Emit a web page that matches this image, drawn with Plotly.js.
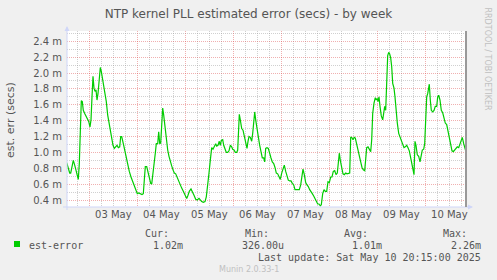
<!DOCTYPE html>
<html>
<head>
<meta charset="utf-8">
<script src="https://cdn.plot.ly/plotly-3.0.1.min.js"></script>
<style>html,body{margin:0;padding:0;background:#F0F0F0;}#chart{width:497px;height:280px;}</style>
</head>
<body>
<div id="chart"></div>
<script>
// hours relative to 03 May 2025 00:00
const hours = [
-11.3,-10.65,-9.8,-9.3,-8.5,-8.0,-7.3,-6.65,-6.0,-5.5,-5.0,-4.5,-4.0,-3.5,-3.0,-2.3,-1.65,-1.0,-0.3,0.35,
0.85,1.35,1.85,2.35,2.85,3.35,3.85,4.35,5.0,5.5,6.0,6.7,7.35,8.0,8.5,9.2,9.85,10.5,11.2,11.85,
12.5,13.2,13.85,14.5,15.2,15.7,16.2,
17.2,18.0,18.7,19.35,20.0,20.85,21.7,22.5,23.35,24.0,24.7,25.5,26.35,27.0,27.5,28.0,28.7,29.35,30.0,30.7,
31.2,31.7,32.35,33.0,33.5,34.2,34.7,35.2,35.7,36.2,36.7,37.2,37.85,38.5,39.2,39.85,40.5,41.2,41.85,42.5,
43.2,43.85,44.5,45.35,
46.2,47.0,47.85,48.7,49.35,50.0,50.85,51.5,52.35,53.2,54.0,54.85,55.5,56.2,57.0,57.85,58.5,59.2,59.85,60.5,
61.2,61.85,62.5,63.2,63.7,64.35,65.0,65.5,66.0,66.7,67.2,67.85,68.5,69.2,69.85,70.5,71.2,71.7,72.35,73.0,
73.7,74.2,74.6,75.0,
75.5,76.2,76.85,77.5,78.2,78.85,79.35,79.85,80.5,81.2,81.7,82.2,82.7,83.2,83.85,84.5,85.2,85.85,86.5,87.2,
87.7,88.2,88.85,89.5,90.2,90.85,91.5,92.2,92.85,93.5,94.2,94.85,95.5,96.2,96.85,97.5,98.2,98.85,99.5,100.2,
100.85,101.5,102.2,102.85,103.5,
105.0,105.7,106.35,106.85,107.5,108.2,108.85,109.5,110.2,110.85,111.5,112.2,112.85,113.5,114.2,114.85,115.5,116.0,116.7,117.35,
118.0,118.7,119.35,120.0,120.7,121.35,122.0,122.7,123.35,124.0,124.5,125.0,125.5,126.2,126.85,127.5,128.2,128.85,129.5,130.2,
130.7,131.2,131.85,132.5,
133.0,133.7,134.35,135.0,135.7,136.35,137.0,137.7,138.2,138.7,139.35,140.0,140.7,141.2,141.7,142.35,143.0,143.5,144.0,144.35,
144.85,145.35,146.0,146.7,147.2,147.7,148.2,148.7,149.2,149.7,150.2,150.7,151.2,151.7,152.35,152.85,153.35,154.0,154.7,155.35,
156.0,156.7,157.35,158.0,158.7,159.35,160.0,160.7,161.35,
161.85,162.35,162.85,163.35,164.0,164.7,165.35,166.0,166.5,167.2,167.7,168.2,168.7,169.2,169.7,170.0,170.5,171.0,171.7,172.35,
173.0,173.7,174.2,174.7,175.35,176.0,176.7,177.35,178.0,178.7,179.35,180.0,180.7,181.35,182.0,182.7,183.35,184.0,184.7,185.35,
186.0,186.5,187.2,187.85,188.2
];
// estimated error, milliseconds
const errMs = [
0.87,0.82,0.74,0.74,0.87,0.90,0.84,0.76,0.69,0.66,0.86,1.20,1.65,1.64,1.53,1.49,1.46,1.42,1.39,1.32,
1.41,1.70,1.96,1.81,1.77,1.79,1.66,1.74,1.95,2.07,2.02,1.91,1.79,1.68,1.64,1.47,1.37,1.26,1.16,1.09,
1.05,1.07,1.09,1.06,1.07,1.20,1.20,
1.09,0.99,0.90,0.86,0.76,0.69,0.63,0.57,0.51,0.48,0.49,0.48,0.47,0.48,0.69,0.82,0.82,0.76,0.67,0.61,
0.60,0.69,0.82,0.99,1.11,1.11,1.26,1.11,1.12,1.37,1.56,1.47,1.32,1.16,1.03,0.95,0.88,0.83,0.78,0.74,
0.73,0.69,0.63,0.58,
0.55,0.51,0.46,0.42,0.46,0.51,0.54,0.51,0.46,0.41,0.40,0.42,0.40,0.38,0.37,0.38,0.44,0.57,0.74,0.90,
1.06,1.04,1.07,1.11,1.08,1.09,1.14,1.09,1.15,1.16,1.09,1.05,1.00,1.00,1.02,1.09,1.07,1.04,1.03,1.00,
1.00,1.03,1.25,1.48,
1.41,1.30,1.28,1.20,1.11,1.05,1.14,1.20,1.19,1.14,1.24,1.41,1.51,1.41,1.28,1.20,1.09,0.99,0.93,0.93,
0.88,1.05,1.06,1.05,0.97,0.93,0.88,0.86,0.81,0.74,0.73,0.69,0.66,0.74,0.81,0.84,0.76,0.69,0.65,0.64,
0.64,0.61,0.59,0.53,0.53,
0.53,0.59,0.74,0.79,0.72,0.62,0.59,0.57,0.53,0.51,0.48,0.45,0.42,0.39,0.35,0.35,0.326,0.34,0.48,0.53,
0.51,0.51,0.63,0.62,0.69,0.69,0.76,0.77,0.72,0.74,0.86,0.99,0.90,0.82,0.73,0.72,0.74,0.73,0.74,0.74,
1.19,1.19,1.16,1.19,
1.18,1.09,1.03,0.97,0.88,0.81,0.78,0.77,0.90,1.06,1.07,1.04,1.01,1.16,1.49,1.62,1.69,1.66,1.68,1.64,
1.70,1.58,1.46,1.41,1.49,1.58,1.53,1.95,2.22,2.26,2.24,2.19,2.08,1.87,1.81,1.70,1.53,1.37,1.24,1.19,
1.16,1.09,1.06,1.07,1.09,1.06,1.02,0.93,0.84,
0.76,0.72,1.14,1.09,0.97,0.95,0.88,0.97,1.03,1.04,1.11,1.41,1.70,1.74,1.85,1.86,1.66,1.53,1.51,1.53,
1.58,1.58,1.70,1.72,1.66,1.53,1.50,1.45,1.37,1.35,1.26,1.20,1.09,1.02,1.01,1.03,1.05,1.07,1.06,1.11,
1.18,1.19,1.11,1.04,1.02
];
const seriesName = 'est-error';
const statLabels = ['Cur:', 'Min:', 'Avg:', 'Max:'];
const statValues = ['1.02m', '326.00u', '1.01m', '2.26m'];
const titleText = 'NTP kernel PLL estimated error (secs) - by week';
const yTitle = 'est. err (secs)';
const lastUpdate = 'Last update: Sat May 10 20:15:00 2025';
const rangeHours = [-11.15, 188.35];

const BASE = Date.UTC(2025, 4, 3, 0, 0, 0);
const toMs = h => BASE + h * 3600000;
const xs = hours.map(toMs);

// pixel helpers for decorations
const L = 67, R = 466, T = 31, B = 207;
const px = x => (x - L) / (R - L);
const py = y => (B - y) / (B - T);

const mono = 'DejaVu Sans Mono, monospace';
const sans = 'DejaVu Sans, sans-serif';
const fc = '#555555';
const majorGrid = 'rgba(222,79,79,0.45)';
const minorGrid = 'rgba(150,150,150,0.45)';

const annotations = [];
annotations.push({xref:'paper', yref:'paper', x:px(11), y:py(120), text:yTitle, textangle:-90, showarrow:false,
  font:{family:sans, size:11, color:fc}, xanchor:'center', yanchor:'middle'});
annotations.push({xref:'paper', yref:'paper', x:px(487), y:py(5), text:'RRDTOOL / TOBI OETIKER', textangle:90, showarrow:false,
  font:{family:sans, size:8, color:'#c0c0c0'}, xanchor:'center', yanchor:'top'});
const labelRight = [171, 271, 370, 469];
const valueRight = [185, 286, 384, 483];
statLabels.forEach((s, i) => {
  annotations.push({xref:'paper', yref:'paper', x:px(labelRight[i]), y:py(233.5), text:s, showarrow:false,
    font:{family:mono, size:10, color:fc}, xanchor:'right', yanchor:'middle'});
  annotations.push({xref:'paper', yref:'paper', x:px(valueRight[i]), y:py(245.5), text:statValues[i], showarrow:false,
    font:{family:mono, size:10, color:fc}, xanchor:'right', yanchor:'middle'});
});
annotations.push({xref:'paper', yref:'paper', x:px(27), y:py(245.5), text:seriesName, showarrow:false,
  font:{family:mono, size:10, color:fc}, xanchor:'left', yanchor:'middle'});
annotations.push({xref:'paper', yref:'paper', x:px(483), y:py(257.5), text:lastUpdate, showarrow:false,
  font:{family:mono, size:10, color:fc}, xanchor:'right', yanchor:'middle'});
annotations.push({xref:'paper', yref:'paper', x:px(248.5), y:py(269.5), text:'Munin 2.0.33-1', showarrow:false,
  font:{family:sans, size:8, color:'#c0c0c0'}, xanchor:'center', yanchor:'middle'});
// axis arrows
annotations.push({xref:'paper', yref:'paper', x:px(67), y:py(26), ax:0, ay:6, text:'', showarrow:true,
  arrowhead:2, arrowsize:1, arrowwidth:1, arrowcolor:'#CFD6F8'});
annotations.push({xref:'paper', yref:'paper', x:px(473), y:py(207), ax:-7, ay:0, text:'', showarrow:true,
  arrowhead:2, arrowsize:1, arrowwidth:1, arrowcolor:'#CFD6F8'});

const shapes = [
  {type:'line', xref:'paper', yref:'paper', x0:px(63), x1:px(468), y0:py(207), y1:py(207), line:{color:'#CFD6F8', width:1}, layer:'above'},
  {type:'line', xref:'paper', yref:'paper', x0:px(67), x1:px(67), y0:py(210), y1:py(30), line:{color:'#CFD6F8', width:1}, layer:'above'},
  {type:'line', xref:'paper', yref:'paper', x0:px(466), x1:px(466), y0:py(207), y1:py(31), line:{color:'#999999', width:2}, layer:'above'},
  {type:'rect', xref:'paper', yref:'paper', x0:px(14), x1:px(20), y0:py(247), y1:py(241), line:{width:0}, fillcolor:'#00CC00'}
];

const trace = {x: xs, y: errMs, type:'scatter', mode:'lines', name: seriesName,
  line:{color:'#00CC00', width:1.2}, hoverinfo:'skip'};

const layout = {
  width:497, height:280,
  margin:{l:L, r:497-R, t:T, b:280-B, pad:0},
  paper_bgcolor:'#F0F0F0', plot_bgcolor:'#FFFFFF',
  showlegend:false,
  title:{text:titleText, x:0.5, xref:'container', xanchor:'center', y:1-13.5/280, yref:'container', yanchor:'middle',
    font:{family:sans, size:12, color:fc}},
  xaxis:{type:'date', range:[toMs(rangeHours[0]), toMs(rangeHours[1])], tick0:BASE, dtick:86400000,
    ticklabelmode:'period', tickformat:'%d %b', ticks:'', showline:false, zeroline:false,
    showgrid:true, gridcolor:majorGrid, griddash:'1px,1px', gridwidth:1,
    minor:{dtick:6*3600000, tick0:BASE, showgrid:true, gridcolor:minorGrid, griddash:'1px,1px', gridwidth:1},
    tickfont:{family:sans, size:10, color:fc}, fixedrange:true},
  yaxis:{range:[0.312, 2.53], tick0:0.4, dtick:0.2, tickformat:'.1f', ticksuffix:' m', ticks:'',
    showline:false, zeroline:false, ticklabelstandoff:4,
    showgrid:true, gridcolor:majorGrid, griddash:'1px,1px', gridwidth:1,
    minor:{dtick:0.1, showgrid:true, gridcolor:minorGrid, griddash:'1px,1px', gridwidth:1},
    tickfont:{family:sans, size:10, color:fc}, fixedrange:true},
  annotations: annotations,
  shapes: shapes
};
Plotly.newPlot('chart', [trace], layout, {staticPlot:true, displayModeBar:false});
</script>
</body>
</html>
